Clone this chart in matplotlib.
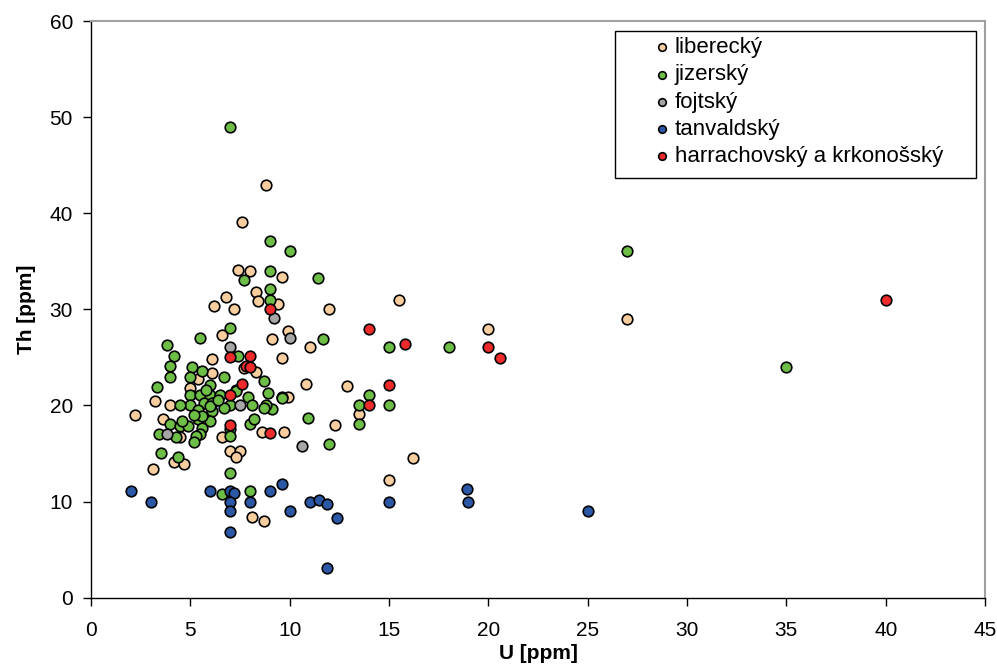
import matplotlib
matplotlib.use("Agg")
import matplotlib.pyplot as plt
from matplotlib.patches import Rectangle

plt.rcParams["font.family"] = ["Liberation Sans", "DejaVu Sans"]

# Th vs U, grouped by granite body
liberecky_u = [8.8, 7.6, 7.4, 8.0, 9.6, 8.3, 8.4, 9.4, 6.8, 6.2, 7.2, 6.6, 9.9, 9.1, 11.0,
               15.5, 12.0, 20.0, 27.0, 9.6, 10.8, 12.9, 13.5, 12.3, 9.7, 16.2, 15.0, 9.9,
               6.1, 7.7, 8.3, 6.1, 5.4, 5.0, 3.2, 4.0, 2.2, 3.6, 4.5, 4.2, 4.7, 3.1, 6.6,
               7.0, 7.5, 7.3, 8.6, 8.1, 8.7]
liberecky_th = [42.9, 39.1, 34.1, 34.0, 33.4, 31.8, 30.9, 30.6, 31.3, 30.4, 30.0, 27.3, 27.7, 26.9, 26.1,
                31.0, 30.0, 28.0, 29.0, 24.9, 22.2, 22.0, 19.1, 18.0, 17.2, 14.5, 12.2, 20.9,
                24.8, 23.9, 23.5, 23.4, 22.8, 21.8, 20.5, 20.0, 19.0, 18.6, 16.7, 14.1, 13.9, 13.4, 16.7,
                15.3, 15.3, 14.6, 17.2, 8.4, 8.0]

jizersky_u = [7.0, 9.0, 10.0, 9.0, 7.7, 9.0, 9.0, 7.0, 5.5, 3.8, 11.4, 11.7, 15.0, 18.0, 27.0,
              35.0, 14.0, 13.5, 15.0, 13.5, 10.9, 12.0, 9.6, 9.1,
              7.4, 4.2, 4.0, 4.0, 5.1, 5.6, 5.0, 6.7, 8.7, 7.3, 3.3, 5.0, 5.5, 6.0, 6.0, 6.5,
              7.3, 7.9, 8.9, 9.6, 8.8, 8.7, 8.1, 7.0, 6.7, 5.0, 4.5, 5.7, 6.1, 5.4, 6.1,
              5.4, 6.0, 4.0, 4.5, 4.9, 5.6, 5.5, 5.3, 5.2, 3.4, 4.3, 3.5, 4.4, 7.0, 7.0,
              8.0, 8.2, 7.0, 6.6, 8.0, 5.6, 6.0, 5.2, 4.6, 5.8, 6.4]
jizersky_th = [49.0, 37.1, 36.1, 34.0, 33.1, 32.1, 31.0, 28.1, 27.0, 26.3, 33.3, 26.9, 26.1, 26.1, 36.1,
               24.0, 21.1, 20.0, 20.0, 18.1, 18.7, 16.0, 20.9, 19.6,
               25.1, 25.1, 24.1, 23.0, 24.0, 23.6, 23.0, 23.0, 22.5, 21.6, 21.9, 21.1, 21.1, 22.1, 21.1, 21.1,
               21.5, 20.9, 21.3, 20.8, 20.1, 19.7, 20.0, 20.0, 19.7, 20.0, 20.0, 20.3, 20.3, 19.5, 19.4,
               18.6, 18.4, 18.1, 17.9, 17.9, 17.7, 17.0, 16.8, 16.2, 17.0, 16.7, 15.1, 14.6, 17.5, 16.8,
               18.1, 18.6, 13.0, 10.8, 11.1, 18.9, 19.9, 19.0, 18.4, 21.6, 20.6]

fojtsky_u = [7.0, 9.2, 10.0, 7.5, 3.8, 10.6]
fojtsky_th = [26.1, 29.1, 27.0, 20.0, 17.0, 15.8]

tanvaldsky_u = [2.0, 3.0, 6.0, 7.0, 7.2, 7.0, 7.0, 7.0, 8.0, 9.0, 9.6, 10.0, 11.0, 11.5, 11.9,
                12.4, 11.9, 15.0, 18.9, 19.0, 25.0]
tanvaldsky_th = [11.1, 10.0, 11.1, 11.1, 10.9, 10.0, 9.0, 6.8, 10.0, 11.1, 11.8, 9.0, 10.0, 10.2, 9.7,
                 8.3, 3.1, 10.0, 11.3, 10.0, 9.0]

harrachovsky_u = [9.0, 7.0, 8.0, 7.8, 8.0, 7.6, 7.0, 7.0, 9.0, 14.0, 15.8, 20.0, 20.6, 15.0, 14.0, 40.0]
harrachovsky_th = [30.0, 25.0, 25.1, 24.1, 24.0, 22.2, 21.1, 18.0, 17.1, 28.0, 26.4, 26.1, 24.9, 22.1, 20.0, 31.0]

groups = [
    ("liberecký", liberecky_u, liberecky_th, "#F9CE9E"),
    ("jizerský", jizersky_u, jizersky_th, "#6CBE45"),
    ("fojtský", fojtsky_u, fojtsky_th, "#A6A6A6"),
    ("tanvaldský", tanvaldsky_u, tanvaldsky_th, "#2B58A6"),
    ("harrachovský a krkonošský", harrachovsky_u, harrachovsky_th, "#EE2A2A"),
]

fig = plt.figure(figsize=(9.97, 6.67), dpi=100)
ax = fig.add_axes([0.0913, 0.1039, 0.8967, 0.8646])

for name, u, th, color in groups:
    ax.scatter(u, th, s=58, c=color, edgecolors="black", linewidths=1.2,
               label=name, zorder=3, clip_on=False)

ax.set_xlim(0, 45)
ax.set_ylim(0, 60)
ax.set_xticks(range(0, 50, 5))
ax.set_yticks(range(0, 70, 10))
ax.tick_params(axis="both", direction="out", length=6, width=1, labelsize=15)
ax.tick_params(axis="x", pad=11)
ax.tick_params(axis="y", pad=7)

for side in ("top", "right"):
    ax.spines[side].set_color("#A0A0A0")
    ax.spines[side].set_linewidth(1.5)
for side in ("left", "bottom"):
    ax.spines[side].set_color("black")
    ax.spines[side].set_linewidth(1.0)

ax.set_xlabel("U [ppm]", fontsize=15, fontweight="bold", labelpad=3)
ax.set_ylabel("Th [ppm]", fontsize=15, fontweight="bold", labelpad=10)

# legend box drawn separately so the padding matches the original
box = Rectangle((0.586, 0.727), 0.404, 0.256, transform=ax.transAxes,
                facecolor="white", edgecolor="black", linewidth=1.0, zorder=5)
ax.add_patch(box)
leg = ax.legend(loc="upper left", bbox_to_anchor=(0.632, 0.972), frameon=False,
                fontsize=16, markerscale=0.72, handlelength=0.5, handletextpad=0.35,
                labelspacing=0.28, borderpad=0, borderaxespad=0)
leg.set_zorder(6)

fig.savefig("out.png", dpi=100)
